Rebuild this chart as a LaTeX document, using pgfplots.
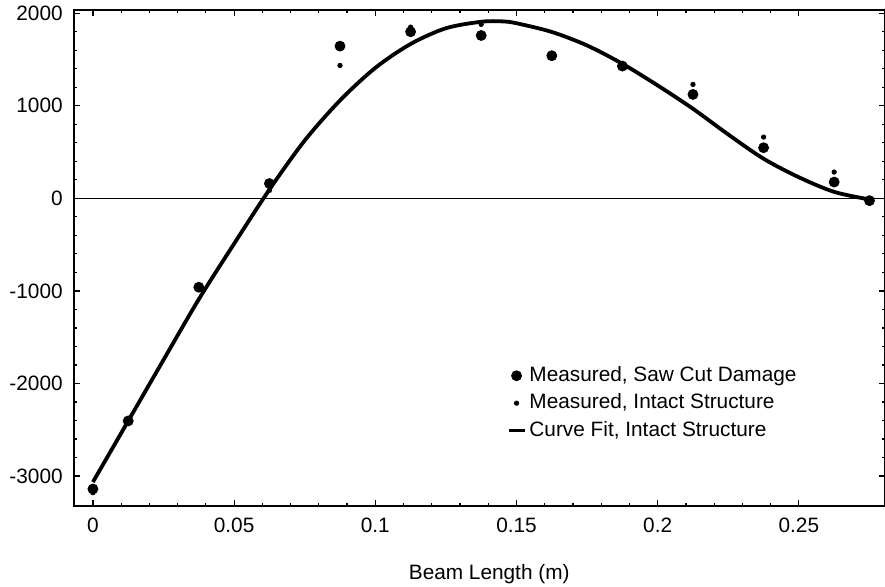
\documentclass[border=0pt]{standalone}
\usepackage{fontspec}
\setmainfont{Liberation Sans}
\usepackage{pgfplots}
\pgfplotsset{compat=1.18}

% measured points and fitted curve (beam length in m)
\pgfplotstableread{
x      y
0      -3140
0.0125 -2405
0.0375 -960
0.0625 160
0.0875 1645
0.1125 1800
0.1375 1760
0.1625 1541
0.1875 1429
0.2125 1123
0.2375 547
0.2625 176
0.275  -25
}\sawcut
\pgfplotstableread{
x      y
0      -3180
0.0125 -2410
0.0375 -935
0.0625 86
0.0875 1436
0.1125 1850
0.1375 1880
0.1625 1545
0.1875 1450
0.2125 1231
0.2375 662
0.2625 284
0.275  -20
}\intact
\pgfplotstableread{
x      y
0      -3065
0.0125 -2405
0.025  -1745
0.0375 -1090
0.05   -490
0.0625 95
0.075  625
0.0875 1058
0.1    1410
0.1125 1668
0.125  1838
0.1375 1908
0.145  1912
0.15   1892
0.1625 1798
0.175  1652
0.1875 1454
0.2    1220
0.2125 968
0.225  690
0.2375 428
0.25   228
0.2625 70
0.275  -12
}\fit

\begin{document}
\fontsize{10.4pt}{12.5pt}\selectfont
\begin{tikzpicture}
\begin{axis}[
    scale only axis,
    width=405.5pt, height=248pt,
    xmin=-0.0067, xmax=0.2805,
    ymin=-3324, ymax=2035,
    axis line style={line width=1pt},
    xtick={0,0.05,0.1,0.15,0.2,0.25},
    ytick={-3000,-2000,-1000,0,1000,2000},
    xticklabels={0,0.05,0.1,0.15,0.2,0.25},
    minor x tick num=4,
    minor y tick num=4,
    major tick length=3pt,
    minor tick length=1.6pt,
    tick style={line width=0.6pt,black},
    scaled ticks=false,
    /pgf/number format/assume math mode=true,
    /pgf/number format/set thousands separator={},
    yticklabel style={xshift=-2pt},
    xticklabel style={yshift=-2.5pt},
    xlabel={Beam Length (m)},
    xlabel style={at={(axis description cs:0.512,0)},anchor=center,yshift=-34pt},
    legend cell align=left,
    legend image code/.code={\draw[mark repeat=2,mark phase=2,#1] plot coordinates {(0pt,0pt)(4pt,0pt)(8pt,0pt)};},
    legend style={draw=none, fill=none, inner sep=0pt, row sep=1pt,
        at={(0.533,0.289)}, anchor=north west,
        nodes={inner sep=1.5pt, text height=7.7pt, text depth=2pt}},
]
\draw[line width=0.7pt] (axis cs:-0.0067,0) -- (axis cs:0.2805,0);
\addplot[only marks, mark=*, mark size=2.5pt, black] table {\sawcut};
\addlegendentry{Measured, Saw Cut Damage}
\addplot[only marks, mark=*, mark size=1.1pt, black] table {\intact};
\addlegendentry{Measured, Intact Structure}
\addplot[line width=1.9pt, black, smooth, tension=0.5, no marks] table {\fit};
\addlegendentry{Curve Fit, Intact Structure}
\end{axis}
\pgfresetboundingbox
\path (-37pt,-40pt) rectangle (405.5pt,253pt);
\end{tikzpicture}
\end{document}
